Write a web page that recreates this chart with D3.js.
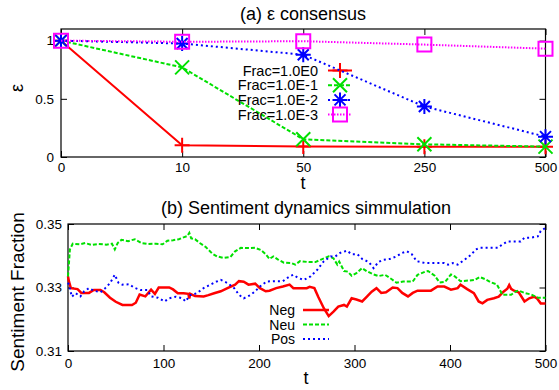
<!DOCTYPE html>
<html>
<head>
<meta charset="utf-8">
<script src="https://cdn.jsdelivr.net/npm/d3@7"></script>
<style>
  body { margin: 0; background: #fff; }
  svg { display: block; font-family: "Liberation Sans", Arial, sans-serif; }
</style>
</head>
<body>
<svg id="chart" width="559" height="390"></svg>
<script>
// ---- data: (a) epsilon consensus ----
const tLabels = ["0", "10", "50", "250", "500"];
const frac0 = [1, 0.1, 0.09, 0.088, 0.088];
const frac1 = [1, 0.77, 0.152, 0.109, 0.089];
const frac2 = [1, 0.975, 0.879, 0.434, 0.175];
const frac3 = [1, 0.99, 0.995, 0.966, 0.931];
const fracNames = ["Frac=1.0E0", "Frac=1.0E-1", "Frac=1.0E-2", "Frac=1.0E-3"];
const epsTicks = [0, 0.5, 1];

// ---- data: (b) sentiment dynamics, [t, fraction] ----
const negPoints = [
  [0,0.3335],[1,0.3319],[3,0.3298],[10,0.3295],[14,0.3283],[22,0.3283],[27,0.3292],[34,0.3292],
  [38,0.3285],[44,0.3268],[50,0.3255],[57,0.3245],[67,0.3245],[71,0.3252],[75,0.3278],[81,0.3272],
  [87,0.3293],[91,0.3280],[95,0.3300],[106,0.3300],[110,0.3294],[115,0.3282],[121,0.3282],[126,0.3280],
  [127,0.3265],[128,0.3280],[133,0.3273],[142,0.3272],[147,0.3276],[153,0.3282],[160,0.3288],[167,0.3298],
  [175,0.3309],[179,0.3320],[184,0.3318],[189,0.3309],[196,0.3312],[201,0.3298],[207,0.3288],[211,0.3290],
  [218,0.3298],[225,0.3303],[232,0.3309],[236,0.3298],[250,0.3298],[253,0.3302],[258,0.3298],[262,0.3271],
  [268,0.3234],[273,0.3210],[278,0.3224],[283,0.3240],[289,0.3245],[292,0.3240],[297,0.3266],[302,0.3262],
  [308,0.3256],[313,0.3271],[318,0.3287],[323,0.3298],[328,0.3283],[333,0.3285],[340,0.3300],[345,0.3298],
  [350,0.3283],[356,0.3272],[361,0.3283],[366,0.3290],[380,0.3290],[387,0.3303],[394,0.3303],[401,0.3293],
  [408,0.3298],[411,0.3309],[418,0.3295],[425,0.3282],[430,0.3256],[434,0.3250],[439,0.3261],[446,0.3266],
  [451,0.3271],[456,0.3287],[460,0.3296],[462,0.3308],[464,0.3296],[467,0.3290],[472,0.3285],[478,0.3256],
  [483,0.3266],[488,0.3271],[491,0.3266],[495,0.3250],[500,0.3250]
];
const neuPoints = [
  [0,0.3335],[2,0.3420],[5,0.3438],[12,0.3436],[18,0.3440],[25,0.3434],[32,0.3437],[40,0.3435],
  [46,0.3438],[49,0.3420],[52,0.3440],[56,0.3450],[63,0.3446],[70,0.3452],[77,0.3440],[84,0.3437],
  [92,0.3438],[99,0.3436],[104,0.3447],[110,0.3449],[116,0.3452],[121,0.3458],[125,0.3462],[127,0.3472],
  [129,0.3455],[133,0.3452],[138,0.3440],[144,0.3428],[151,0.3407],[156,0.3398],[163,0.3393],[170,0.3396],
  [175,0.3414],[181,0.3425],[190,0.3424],[196,0.3425],[202,0.3418],[207,0.3405],[211,0.3390],[215,0.3398],
  [220,0.3388],[226,0.3378],[234,0.3377],[238,0.3372],[243,0.3383],[252,0.3380],[259,0.3380],[265,0.3388],
  [273,0.3398],[278,0.3392],[282,0.3372],[284,0.3382],[289,0.3352],[293,0.3350],[297,0.3337],[302,0.3345],
  [308,0.3361],[313,0.3351],[320,0.3341],[325,0.3336],[332,0.3340],[339,0.3326],[344,0.3315],[351,0.3319],
  [361,0.3319],[366,0.3340],[374,0.3350],[377,0.3352],[384,0.3337],[389,0.3316],[395,0.3318],[401,0.3341],
  [405,0.3335],[411,0.3320],[420,0.3322],[426,0.3324],[431,0.3333],[437,0.3326],[443,0.3316],[449,0.3310],
  [455,0.3277],[464,0.3277],[469,0.3288],[472,0.3290],[479,0.3282],[485,0.3278],[492,0.3268],[500,0.3268]
];
const posPoints = [
  [0,0.3315],[1,0.3309],[4,0.3271],[8,0.3282],[13,0.3272],[17,0.3288],[22,0.3298],[27,0.3290],
  [34,0.3285],[39,0.3298],[44,0.3314],[49,0.3340],[53,0.3314],[57,0.3309],[64,0.3310],[69,0.3300],
  [76,0.3292],[83,0.3292],[87,0.3272],[94,0.3268],[101,0.3256],[106,0.3266],[113,0.3271],[120,0.3266],
  [123,0.3256],[128,0.3276],[135,0.3282],[142,0.3298],[149,0.3309],[155,0.3318],[160,0.3324],[167,0.3314],
  [174,0.3298],[179,0.3277],[184,0.3266],[191,0.3276],[196,0.3288],[201,0.3303],[208,0.3319],[215,0.3320],
  [225,0.3320],[232,0.3335],[236,0.3340],[241,0.3330],[247,0.3324],[254,0.3335],[261,0.3356],[268,0.3383],
  [275,0.3398],[280,0.3398],[285,0.3409],[292,0.3416],[297,0.3405],[303,0.3405],[308,0.3390],[315,0.3380],
  [320,0.3361],[325,0.3380],[330,0.3387],[337,0.3390],[344,0.3398],[350,0.3409],[355,0.3414],[360,0.3405],
  [365,0.3383],[374,0.3377],[394,0.3377],[398,0.3372],[403,0.3377],[408,0.3372],[415,0.3387],[422,0.3403],
  [427,0.3420],[432,0.3425],[450,0.3425],[455,0.3436],[460,0.3445],[474,0.3445],[478,0.3457],[485,0.3457],
  [492,0.3461],[495,0.3478],[500,0.3488]
];
const sentNames = ["Neg", "Neu", "Pos"];
const tTicks = [0, 100, 200, 300, 400, 500];
const fracTicks = [0.31, 0.33, 0.35];

const svg = d3.select("#chart");
svg.append("rect").attr("width", 559).attr("height", 390).attr("fill", "#fff");

// markers drawn as small paths
function marker(g, kind, cx, cy, color) {
  let d;
  if (kind === "plus") d = `M${cx-7.5},${cy}H${cx+7.5}M${cx},${cy-7.5}V${cy+7.5}`;
  else if (kind === "cross") d = `M${cx-7},${cy-7}L${cx+7},${cy+7}M${cx-7},${cy+7}L${cx+7},${cy-7}`;
  else if (kind === "star") d = `M${cx-7.5},${cy}H${cx+7.5}M${cx},${cy-7.5}V${cy+7.5}M${cx-5.5},${cy-5.5}L${cx+5.5},${cy+5.5}M${cx-5.5},${cy+5.5}L${cx+5.5},${cy-5.5}`;
  else d = `M${cx-7},${cy-7}H${cx+7}V${cy+7}H${cx-7}Z`;
  g.append("path").attr("d", d).attr("fill", "none").attr("stroke", color).attr("stroke-width", 2);
}

function styleAxis(g) {
  g.select(".domain").remove();
  g.selectAll("line").attr("stroke", "#000").attr("stroke-width", 1);
  g.selectAll("text").attr("fill", "#000").style("font-size", "13.5px")
    .style("font-family", '"Liberation Sans", Arial, sans-serif');
}

// ================= (a) =================
const a = { left: 61, right: 545.5, top: 29, bottom: 157 };
const xA = d3.scalePoint().domain(tLabels).range([a.left, a.right]);
const yA = d3.scaleLinear().domain([0, 1.1]).range([a.bottom, a.top]);

svg.append("g").attr("transform", `translate(0,${a.bottom})`)
  .call(d3.axisBottom(xA).tickSizeInner(-6).tickSizeOuter(0).tickPadding(5)).call(styleAxis);
svg.append("g").attr("transform", `translate(0,${a.top})`)
  .call(d3.axisTop(xA).tickSizeInner(-6).tickSizeOuter(0).tickFormat("")).call(styleAxis);
svg.append("g").attr("transform", `translate(${a.left},0)`)
  .call(d3.axisLeft(yA).tickValues(epsTicks).tickSizeInner(-6).tickSizeOuter(0).tickPadding(7)
    .tickFormat(d3.format(""))).call(styleAxis);
svg.append("g").attr("transform", `translate(${a.right},0)`)
  .call(d3.axisRight(yA).tickValues(epsTicks).tickSizeInner(-6).tickSizeOuter(0).tickFormat("")).call(styleAxis);

svg.append("rect").attr("x", a.left).attr("y", a.top)
  .attr("width", a.right - a.left).attr("height", a.bottom - a.top)
  .attr("fill", "none").attr("stroke", "#000").attr("stroke-width", 1.2);

const seriesA = [
  { vals: frac0, color: "#ff0000", dash: null, mk: "plus" },
  { vals: frac1, color: "#00e000", dash: "4,2", mk: "cross" },
  { vals: frac2, color: "#0000ff", dash: "2,3", mk: "star" },
  { vals: frac3, color: "#ff00ff", dash: "1.5,1.5", mk: "square" }
];
const lineA = d3.line().x((d, i) => xA(tLabels[i])).y(d => yA(d));
const legendA = { textRight: 318, x0: 328, x1: 352, y0: 70.5, dy: 14.7 };

seriesA.forEach((s, k) => {
  const g = svg.append("g");
  g.append("path").attr("d", lineA(s.vals)).attr("fill", "none")
    .attr("stroke", s.color).attr("stroke-width", 2)
    .attr("stroke-dasharray", s.dash);
  s.vals.forEach((v, i) => marker(g, s.mk, xA(tLabels[i]), yA(v), s.color));
  // legend entry
  const ly = legendA.y0 + k * legendA.dy;
  g.append("text").attr("x", legendA.textRight).attr("y", ly + 5)
    .attr("text-anchor", "end").style("font-size", "14.5px").text(fracNames[k]);
  g.append("line").attr("x1", legendA.x0).attr("x2", legendA.x1).attr("y1", ly).attr("y2", ly)
    .attr("stroke", s.color).attr("stroke-width", 2).attr("stroke-dasharray", s.dash);
  marker(g, s.mk, (legendA.x0 + legendA.x1) / 2, ly, s.color);
});

svg.append("text").attr("x", 303).attr("y", 20).attr("text-anchor", "middle")
  .style("font-size", "18px").text("(a) ε consensus");
svg.append("text").attr("x", 303).attr("y", 189).attr("text-anchor", "middle")
  .style("font-size", "18px").text("t");
svg.append("text").attr("transform", "translate(23,88) rotate(-90)").attr("text-anchor", "middle")
  .style("font-size", "18px").text("ε");

// ================= (b) =================
const b = { left: 68, right: 545.5, top: 224, bottom: 351 };
const xB = d3.scaleLinear().domain([0, 500]).range([b.left, b.right]);
const yB = d3.scaleLinear().domain([0.31, 0.35]).range([b.bottom, b.top]);

svg.append("g").attr("transform", `translate(0,${b.bottom})`)
  .call(d3.axisBottom(xB).tickValues(tTicks).tickSizeInner(-6).tickSizeOuter(0).tickPadding(7)).call(styleAxis);
svg.append("g").attr("transform", `translate(0,${b.top})`)
  .call(d3.axisTop(xB).tickValues(tTicks).tickSizeInner(-6).tickSizeOuter(0).tickFormat("")).call(styleAxis);
svg.append("g").attr("transform", `translate(${b.left},0)`)
  .call(d3.axisLeft(yB).tickValues(fracTicks).tickSizeInner(-6).tickSizeOuter(0).tickPadding(6)
    .tickFormat(d3.format(".2f"))).call(styleAxis);
svg.append("g").attr("transform", `translate(${b.right},0)`)
  .call(d3.axisRight(yB).tickValues(fracTicks).tickSizeInner(-6).tickSizeOuter(0).tickFormat("")).call(styleAxis);

svg.append("rect").attr("x", b.left).attr("y", b.top)
  .attr("width", b.right - b.left).attr("height", b.bottom - b.top)
  .attr("fill", "none").attr("stroke", "#000").attr("stroke-width", 1.2);

const seriesB = [
  { pts: negPoints, color: "#ff0000", dash: null, w: 2.5 },
  { pts: neuPoints, color: "#00e000", dash: "4,2", w: 2 },
  { pts: posPoints, color: "#0000ff", dash: "2,3", w: 2 }
];
const lineB = d3.line().x(d => xB(d[0])).y(d => yB(d[1]));
const legendB = { textRight: 295, x0: 303, x1: 329, y0: 310, dy: 14.5 };

seriesB.forEach((s, k) => {
  svg.append("path").attr("d", lineB(s.pts)).attr("fill", "none")
    .attr("stroke", s.color).attr("stroke-width", s.w)
    .attr("stroke-dasharray", s.dash).attr("stroke-linejoin", "miter");
  const ly = legendB.y0 + k * legendB.dy;
  svg.append("text").attr("x", legendB.textRight).attr("y", ly + 5)
    .attr("text-anchor", "end").style("font-size", "14px").text(sentNames[k]);
  svg.append("line").attr("x1", legendB.x0).attr("x2", legendB.x1).attr("y1", ly).attr("y2", ly)
    .attr("stroke", s.color).attr("stroke-width", s.w).attr("stroke-dasharray", s.dash);
});

svg.append("text").attr("x", 306).attr("y", 214).attr("text-anchor", "middle")
  .style("font-size", "18px").text("(b) Sentiment dynamics simmulation");
svg.append("text").attr("x", 306).attr("y", 384).attr("text-anchor", "middle")
  .style("font-size", "18px").text("t");
svg.append("text").attr("transform", "translate(24,292) rotate(-90)").attr("text-anchor", "middle")
  .style("font-size", "19px").text("Sentiment Fraction");
</script>
</body>
</html>
